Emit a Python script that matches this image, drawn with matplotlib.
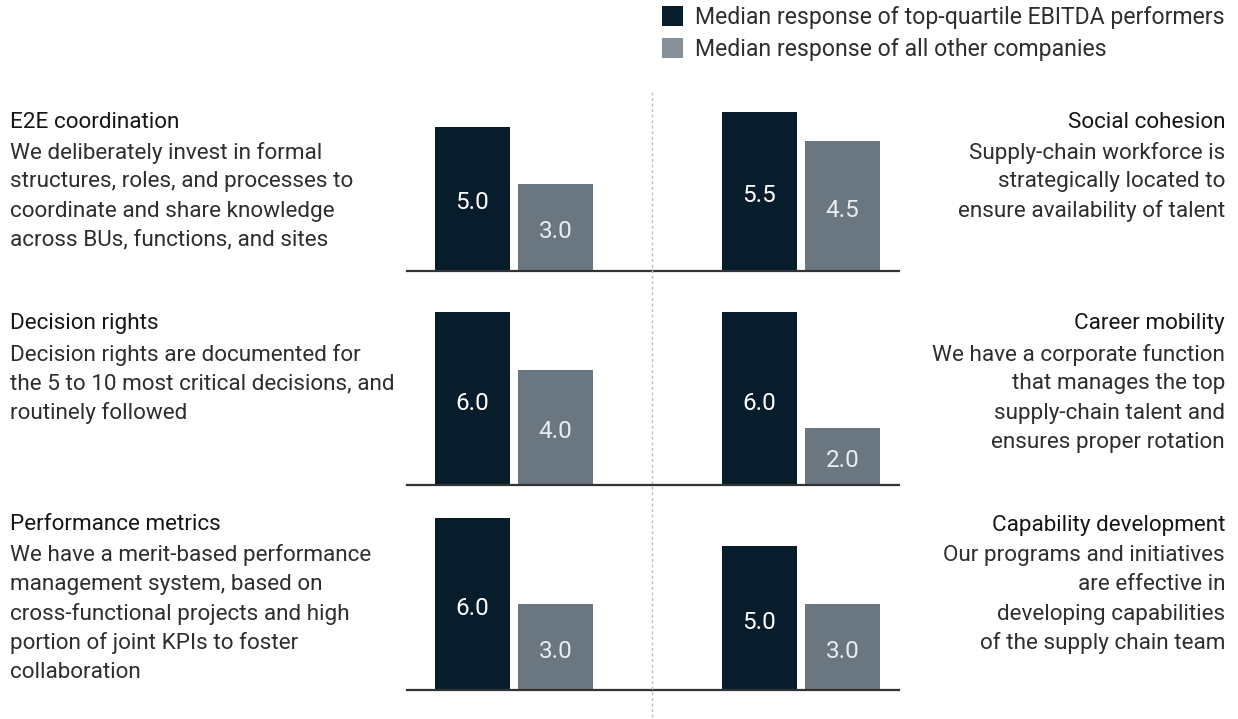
# paired bar panels: top-quartile EBITDA performers vs all other companies
import matplotlib
matplotlib.use("Agg")
import matplotlib.pyplot as plt
from matplotlib.patches import Patch
from matplotlib.lines import Line2D

plt.rcParams['font.family'] = ['Roboto', 'DejaVu Sans']

# data
left_titles = ["E2E coordination", "Decision rights", "Performance metrics"]
left_texts = [
    ["We deliberately invest in formal",
     "structures, roles, and processes to",
     "coordinate and share knowledge",
     "across BUs, functions, and sites"],
    ["Decision rights are documented for",
     "the 5 to 10 most critical decisions, and",
     "routinely followed"],
    ["We have a merit-based performance",
     "management system, based on",
     "cross-functional projects and high",
     "portion of joint KPIs to foster",
     "collaboration"],
]
left_top = [5.0, 6.0, 6.0]
left_other = [3.0, 4.0, 3.0]

right_titles = ["Social cohesion", "Career mobility", "Capability development"]
right_texts = [
    ["Supply-chain workforce is",
     "strategically located to",
     "ensure availability of talent"],
    ["We have a corporate function",
     "that manages the top",
     "supply-chain talent and",
     "ensures proper rotation"],
    ["Our programs and initiatives",
     "are effective in",
     "developing capabilities",
     "of the supply chain team"],
]
right_top = [5.5, 6.0, 5.0]
right_other = [4.5, 2.0, 3.0]

series_names = ["Median response of top-quartile EBITDA performers",
                "Median response of all other companies"]

# style
DARK = "#081d2c"
GREY = "#6a7680"
LEGEND_GREY = "#87919a"
TITLE_C = "#161616"
BODY_C = "#2e2e2e"
FS = 16.2

W, H = 1238, 719
fig = plt.figure(figsize=(W / 100, H / 100), dpi=100)

def fx(x):
    return x / W

def fy(y):
    return 1 - y / H

# layout in pixels
baselines = [270.5, 485, 690]
title_y = [122, 324, 525]
px_per_unit = 28.75
pitch = 83.0
bar_w = 75.0 / pitch
ymax = 7.0
mid_x = 652
panels = [(407, mid_x, 472.5), (mid_x, 899, 759.5)]  # x0, x1, centre of first bar


def draw_panel(x0, x1, c0, base, top_val, other_val):
    ax = fig.add_axes([fx(x0), fy(base), (x1 - x0) / W, ymax * px_per_unit / H])
    ax.set_xlim((x0 - c0) / pitch, (x1 - c0) / pitch)
    ax.set_ylim(0, ymax)
    ax.bar([0, 1], [top_val, other_val], width=bar_w, color=[DARK, GREY])
    for xi, v, c in zip([0, 1], [top_val, other_val], ["white", "#e9edf0"]):
        ax.text(xi, v / 2 - 0.15, f"{v:.1f}", ha='center', va='center',
                color=c, fontsize=17.5)
    for s in ['top', 'left', 'right']:
        ax.spines[s].set_visible(False)
    ax.spines['bottom'].set_color("#333333")
    ax.spines['bottom'].set_linewidth(1.6)
    ax.set_xticks([])
    ax.set_yticks([])
    ax.patch.set_alpha(0)


for i in range(3):
    draw_panel(*panels[0], baselines[i], left_top[i], left_other[i])
    draw_panel(*panels[1], baselines[i], right_top[i], right_other[i])

    fig.text(fx(10), fy(title_y[i]), left_titles[i], ha='left', va='center',
             fontsize=FS, color=TITLE_C)
    for j, line in enumerate(left_texts[i]):
        fig.text(fx(10), fy(title_y[i] + 30.5 + 29.3 * j), line, ha='left',
                 va='center', fontsize=FS, color=BODY_C)

    fig.text(fx(1225), fy(title_y[i]), right_titles[i], ha='right', va='center',
             fontsize=FS, color=TITLE_C)
    for j, line in enumerate(right_texts[i]):
        fig.text(fx(1225), fy(title_y[i] + 30.5 + 29.3 * j), line, ha='right',
                 va='center', fontsize=FS, color=BODY_C)

# dotted divider between the two columns
fig.add_artist(Line2D([fx(mid_x), fx(mid_x)], [fy(92), 0], color="#bdbdbd",
                      lw=1, linestyle=(0, (2, 2))))

# legend
handles = [Patch(facecolor=DARK), Patch(facecolor=LEGEND_GREY)]
fig.legend(handles, series_names, loc='upper left',
           bbox_to_anchor=(fx(646), fy(-10)), frameon=False, fontsize=16.6,
           handlelength=0.92, handleheight=0.92, handletextpad=0.52,
           labelspacing=0.38, borderpad=0.2, labelcolor=BODY_C)

fig.savefig("out.png", dpi=100)
